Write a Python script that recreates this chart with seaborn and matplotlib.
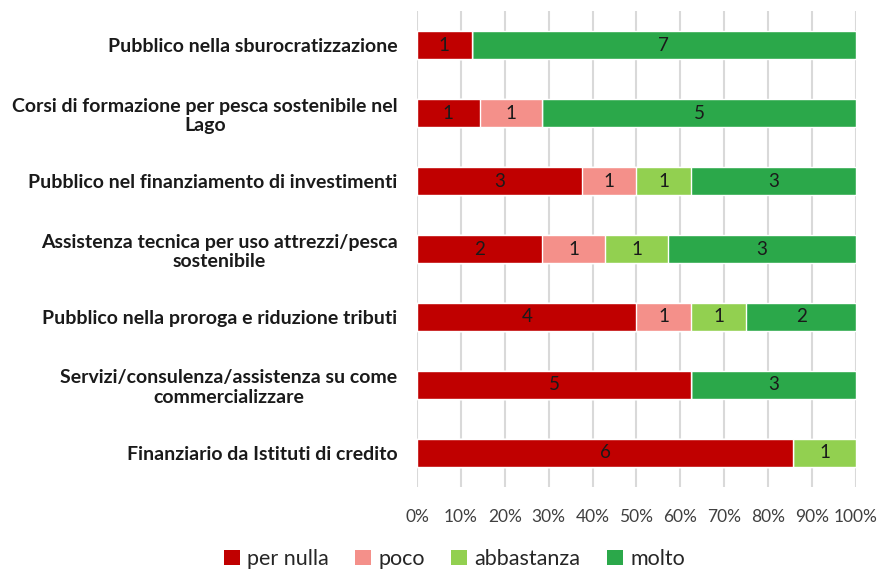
import numpy as np
import pandas as pd
import matplotlib
matplotlib.use("Agg")
import matplotlib.pyplot as plt
import seaborn as sns
from matplotlib.patches import Patch

# --- data ---
categories = [
    "Pubblico nella sburocratizzazione",
    "Corsi di formazione per pesca sostenibile nel\nLago",
    "Pubblico nel finanziamento di investimenti",
    "Assistenza tecnica per uso attrezzi/pesca\nsostenibile",
    "Pubblico nella proroga e riduzione tributi",
    "Servizi/consulenza/assistenza su come\ncommercializzare",
    "Finanziario da Istituti di credito",
]
levels = ["per nulla", "poco", "abbastanza", "molto"]
per_nulla = [1, 1, 3, 2, 4, 5, 6]
poco = [0, 1, 1, 1, 1, 0, 0]
abbastanza = [0, 0, 1, 1, 1, 0, 1]
molto = [7, 5, 3, 3, 2, 3, 0]
colors = ["#C00000", "#F4908A", "#92D050", "#2BA84A"]

counts = pd.DataFrame(
    {"per nulla": per_nulla, "poco": poco, "abbastanza": abbastanza, "molto": molto},
    index=categories,
)
shares = counts.div(counts.sum(axis=1), axis=0)
cum = shares.cumsum(axis=1)

sns.set_theme(style="white")
plt.rcParams["font.family"] = ["Lato", "DejaVu Sans"]

fig = plt.figure(figsize=(8.84, 5.74), dpi=100)
ax = fig.add_axes([0.4717, 0.1516, 0.4966, 0.8292])

# stacked bars: draw cumulative totals from the last level backwards
for lev, col in reversed(list(zip(levels, colors))):
    sns.barplot(x=cum[lev].values, y=categories, color=col, orient="h",
                width=0.4, ax=ax, saturation=1, zorder=3)

# segment labels
for i, cat in enumerate(categories):
    for lev in levels:
        n = counts.loc[cat, lev]
        if n == 0:
            continue
        right = cum.loc[cat, lev]
        left = right - shares.loc[cat, lev]
        ax.text((left + right) / 2, i, str(n), ha="center", va="center",
                fontsize=13.5, color="#1a1a1a", zorder=4)

ax.set_xlim(0, 1)
ax.set_ylim(6.5, -0.5)
ax.set_xticks(np.linspace(0, 1, 11))
ax.set_xticklabels([f"{int(round(v * 100))}%" for v in np.linspace(0, 1, 11)],
                   fontsize=12.5, color="#404040")
ax.tick_params(axis="x", pad=16, length=0)
ax.tick_params(axis="y", length=0, pad=14)
for lab in ax.get_yticklabels():
    lab.set_fontweight("bold")
    lab.set_fontsize(14)
    lab.set_color("#1a1a1a")
    lab.set_multialignment("center")
ax.set_xlabel("")
ax.set_ylabel("")
ax.grid(axis="x", color="#D9D9D9", linewidth=1.5, zorder=0)
for s in ax.spines.values():
    s.set_visible(False)

handles = [Patch(facecolor=c, edgecolor="none") for c in colors]
fig.legend(handles, levels, loc="center", bbox_to_anchor=(0.514, 0.026), ncol=4,
           frameon=False, fontsize=15.5, handlelength=0.75, handleheight=0.75,
           columnspacing=1.2, handletextpad=0.35)

fig.savefig("out.png", dpi=100)
